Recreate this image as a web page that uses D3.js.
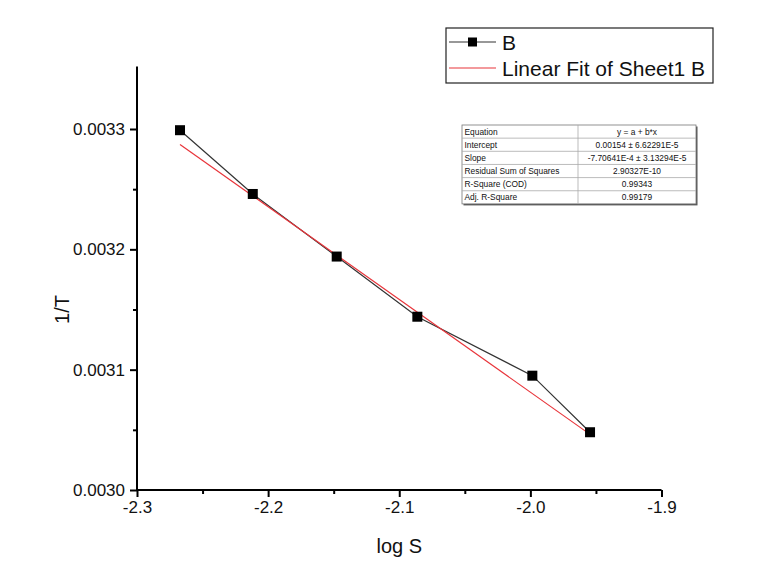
<!DOCTYPE html>
<html>
<head>
<meta charset="utf-8">
<script src="https://cdn.jsdelivr.net/npm/d3@7"></script>
<style>
  body { margin: 0; background: #fff; }
  svg { display: block; font-family: "Liberation Sans", Arial, sans-serif; }
</style>
</head>
<body>
<div id="chart"></div>
<script>
(function() {
  'use strict';

  // 데이터
  const logS = [-2.2672, -2.2117, -2.1477, -2.0862, -1.9985, -1.9545];
  const invT = [0.003299, 0.003246, 0.003194, 0.003144, 0.003095, 0.003048];
  const xTicks = [-2.3, -2.2, -2.1, -2.0, -1.9];
  const yTicks = [0.0030, 0.0031, 0.0032, 0.0033];
  const fitIntercept = 0.00154;
  const fitSlope = -7.70641e-4;
  const statNames = ['Equation', 'Intercept', 'Slope', 'Residual Sum of Squares', 'R-Square (COD)', 'Adj. R-Square'];
  const statValues = ['y = a + b*x', '0.00154 \u00b1 6.62291E-5', '-7.70641E-4 \u00b1 3.13294E-5', '2.90327E-10', '0.99343', '0.99179'];

  const W = 768, H = 588;
  const svg = d3.select('#chart').append('svg')
    .attr('width', W)
    .attr('height', H);

  // 스케일
  const x = d3.scaleLinear().domain([-2.3, -1.9]).range([137, 661.5]);
  const y = d3.scaleLinear().domain([0.0030, 0.0033]).range([490, 129]);
  const yTop = y(0.003352);

  const points = logS.map((v, i) => ({ x: v, y: invT[i] }));

  // 축
  const xAxis = svg.append('g')
    .attr('transform', `translate(0,${y(0.0030)})`)
    .call(d3.axisBottom(x).tickValues(xTicks).tickFormat(d3.format('.1f')).tickSize(7).tickPadding(4));
  xAxis.selectAll('text').attr('font-size', '17px').attr('fill', '#111')
    .text(d => d3.format('.1f')(d).replace('\u2212', '-'));

  const yAxis = svg.append('g')
    .attr('transform', `translate(${x(-2.3)},0)`)
    .call(d3.axisLeft(y).tickValues(yTicks).tickFormat(d3.format('.4f')).tickSize(7).tickPadding(5));
  yAxis.selectAll('text').attr('font-size', '17px').attr('fill', '#111');

  // 보조 눈금
  svg.append('g')
    .attr('transform', `translate(0,${y(0.0030)})`)
    .call(d3.axisBottom(x).tickValues([-2.25, -2.15, -2.05, -1.95]).tickSize(4).tickFormat(''))
    .select('.domain').remove();
  svg.append('g')
    .attr('transform', `translate(${x(-2.3)},0)`)
    .call(d3.axisLeft(y).tickValues([0.00305, 0.00315, 0.00325]).tickSize(4).tickFormat(''))
    .select('.domain').remove();

  svg.selectAll('.domain').attr('stroke', '#000').attr('stroke-width', 2);
  svg.selectAll('.tick line').attr('stroke', '#000').attr('stroke-width', 2);

  // 축 도메인 (Y축은 위로 연장)
  yAxis.select('.domain').attr('d', `M0,${yTop}V${y(0.0030)}`);
  xAxis.select('.domain').attr('d', `M${x(-2.3)},0H${x(-1.9)}`);

  // 축 제목
  svg.append('text')
    .attr('x', (x(-2.3) + x(-1.9)) / 2)
    .attr('y', 553)
    .attr('text-anchor', 'middle')
    .attr('font-size', '20px')
    .attr('fill', '#111')
    .text('log S');
  svg.append('text')
    .attr('transform', `translate(69,${y(0.00315)}) rotate(-90)`)
    .attr('text-anchor', 'middle')
    .attr('font-size', '20px')
    .attr('fill', '#111')
    .text('1/T');

  // 데이터 라인
  const line = d3.line().x(d => x(d.x)).y(d => y(d.y));
  svg.append('path')
    .datum(points)
    .attr('fill', 'none')
    .attr('stroke', '#333')
    .attr('stroke-width', 1.2)
    .attr('d', line);

  // 선형 피팅 라인
  const fitX = d3.extent(logS);
  const fitPts = fitX.map(v => ({ x: v, y: fitIntercept + fitSlope * v }));
  svg.append('path')
    .datum(fitPts)
    .attr('fill', 'none')
    .attr('stroke', '#e8343a')
    .attr('stroke-width', 1.2)
    .attr('d', line);

  // 마커
  const ms = 10;
  svg.selectAll('.dot')
    .data(points)
    .enter()
    .append('rect')
    .attr('class', 'dot')
    .attr('x', d => x(d.x) - ms / 2)
    .attr('y', d => y(d.y) - ms / 2)
    .attr('width', ms)
    .attr('height', ms)
    .attr('fill', '#000');

  // 범례
  const lg = svg.append('g');
  lg.append('rect')
    .attr('x', 446).attr('y', 28).attr('width', 267).attr('height', 55)
    .attr('fill', '#fff').attr('stroke', '#222').attr('stroke-width', 1.2);
  lg.append('line').attr('x1', 449).attr('x2', 496).attr('y1', 42).attr('y2', 42)
    .attr('stroke', '#333').attr('stroke-width', 1.2);
  lg.append('rect').attr('x', 468).attr('y', 37.5).attr('width', 9).attr('height', 9).attr('fill', '#000');
  lg.append('text').attr('x', 502).attr('y', 50).attr('font-size', '21px').attr('fill', '#111').text('B');
  lg.append('line').attr('x1', 449).attr('x2', 496).attr('y1', 68).attr('y2', 68)
    .attr('stroke', '#e8343a').attr('stroke-width', 1.2);
  lg.append('text').attr('x', 502).attr('y', 76).attr('font-size', '21px').attr('fill', '#111').text('Linear Fit of Sheet1 B');

  // 통계 표
  const tx0 = 462, tx1 = 578, tx2 = 696, ty0 = 125, rowH = 13.15;
  const tbl = svg.append('g');
  tbl.append('rect')
    .attr('x', tx0 + 1.5).attr('y', ty0 + 1.5).attr('width', tx2 - tx0).attr('height', rowH * 6)
    .attr('fill', '#555');
  tbl.append('rect')
    .attr('x', tx0).attr('y', ty0).attr('width', tx2 - tx0).attr('height', rowH * 6)
    .attr('fill', '#fff').attr('stroke', '#777').attr('stroke-width', 0.8);
  statNames.forEach((name, i) => {
    const ry = ty0 + i * rowH;
    if (i > 0) {
      tbl.append('line').attr('x1', tx0).attr('x2', tx2).attr('y1', ry).attr('y2', ry)
        .attr('stroke', '#aaa').attr('stroke-width', 0.8);
    }
    tbl.append('text').attr('x', tx0 + 2.5).attr('y', ry + rowH - 3.5)
      .attr('font-size', '8.4px').attr('fill', '#111')
      .text(name);
    tbl.append('text').attr('x', (tx1 + tx2) / 2).attr('y', ry + rowH - 3.5)
      .attr('text-anchor', 'middle')
      .attr('font-size', '8.4px').attr('fill', '#111')
      .text(statValues[i]);
  });
  tbl.append('line').attr('x1', tx1).attr('x2', tx1).attr('y1', ty0).attr('y2', ty0 + rowH * 6)
    .attr('stroke', '#aaa').attr('stroke-width', 0.8);
})();
</script>
</body>
</html>
